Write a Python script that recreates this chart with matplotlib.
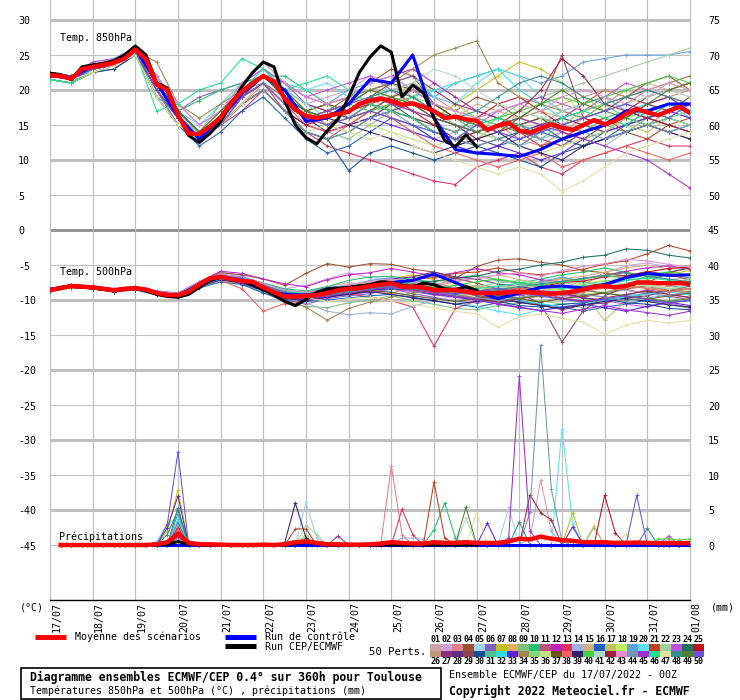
import matplotlib
matplotlib.use('Agg')
import matplotlib.pyplot as plt
from matplotlib.patches import Rectangle
import numpy as np

plt.rcParams['font.family'] = ['DejaVu Sans Mono', 'DejaVu Sans']

W, H = 740, 700

# ---------------- data ----------------
dates = ['17/07', '18/07', '19/07', '20/07', '21/07', '22/07', '23/07', '24/07',
         '25/07', '26/07', '27/07', '28/07', '29/07', '30/07', '31/07', '01/08']
hours6 = list(range(0, 361, 6))
hours12 = list(range(0, 361, 12))
hours_hres = list(range(0, 241, 6))
hours_precip = list(range(6, 361, 6))
hours_hres_precip = list(range(6, 241, 6))

member_colors = ['#d4a0a8', '#d0a0e0', '#e08088', '#a05030', '#a0d0f0', '#8060c0', '#c0c020', '#e0b060',
                 '#80c080', '#20c070', '#c05080', '#c020c0', '#e03060', '#a0b0e0', '#d0b080', '#2060c0',
                 '#c0c060', '#c0f060', '#60a0e0', '#60e0f0', '#c04020', '#a0d0a0', '#c050e0', '#207060',
                 '#c01020',
                 '#c09878', '#903080', '#603080', '#904050', '#105090', '#50c090', '#30e0e0', '#6020e0',
                 '#a08850', '#80d880', '#c0e080', '#705020', '#f06060', '#302070', '#40d040', '#b0d8c8',
                 '#a02040', '#e090d0', '#7098b0', '#a030d0', '#20e090', '#e0e0a0', '#309090', '#508030',
                 '#7050e0']

# Temperature 850 hPa
mean_850 = [22.1, 22.0, 21.6, 23.0, 23.3, 23.6, 23.9, 24.5, 25.8, 24.4,
            20.8, 20.0, 16.4, 13.8, 13.7, 14.8, 16.1, 18.2, 19.8, 21.0,
            22.0, 21.2, 18.8, 17.2, 16.3, 16.0, 16.3, 16.6, 16.9, 18.0,
            18.5, 18.8, 18.4, 17.9, 18.1, 17.6, 17.0, 16.0, 16.2, 15.8,
            15.6, 14.3, 14.9, 15.3, 14.2, 13.9, 14.5, 15.1, 14.6, 14.3,
            15.0, 15.7, 15.1, 15.6, 16.6, 17.3, 16.8, 16.4, 17.0, 17.6,
            16.7]
hres_850 = [22.4, 22.2, 21.5, 23.3, 23.6, 23.8, 24.2, 25.0, 26.3, 25.0,
            21.0, 20.3, 16.5, 13.5, 12.5, 13.8, 15.5, 18.0, 20.5, 22.5,
            24.0, 23.3, 18.5, 15.0, 13.2, 12.3, 14.2, 15.8, 19.0, 22.5,
            24.7, 26.3, 25.4, 19.0, 20.7, 19.6, 16.0, 12.8, 11.9, 13.6,
            11.9]
ctrl_850 = [22.0, 21.8, 23.4, 24.0, 26.0, 21.0, 16.2, 13.0, 16.0, 19.5, 22.0, 20.0, 15.5, 16.0,
            18.0, 21.5, 21.0, 25.0, 16.0, 11.5, 11.0, 10.8, 10.5, 11.5, 13.0, 14.0, 15.0, 17.0,
            17.0, 18.0, 18.0]
members_850 = [
    [22, 21.5, 23, 24, 25.8, 20, 16, 13.5, 16, 20, 22, 19, 17, 16, 18, 20, 19, 17, 16, 15, 14, 16, 15, 14, 13, 15, 16, 17, 18, 17, 16],
    [22.5, 22, 23.5, 24, 26, 21, 17, 14, 17, 21, 23, 20, 18, 19, 20, 22, 21, 19, 17, 16, 15, 14, 13, 15, 16, 17, 18, 20, 19, 21, 22],
    [21.5, 21, 23, 23.5, 25.5, 19, 15, 13, 15, 18, 21, 17, 15, 14, 15, 17, 18, 20, 19, 17, 16, 15, 13, 12, 14, 16, 15, 14, 15, 17, 18],
    [22, 21.5, 22.5, 23.5, 25.5, 20, 16, 14, 16, 19, 21, 18, 16, 17, 19, 21, 23, 22, 18, 17, 19, 18, 16, 15, 17, 18, 20, 19, 21, 22, 20],
    [22.5, 22, 24, 24.5, 26, 22, 17, 13, 15, 19, 22, 19, 17, 15, 16, 18, 17, 16, 15, 14, 12, 13, 14, 15, 17, 16, 15, 17, 18, 17, 19],
    [22, 21.5, 23.5, 24, 26, 21, 17, 19, 20, 21, 23, 21, 18, 17, 16, 18, 20, 21, 19, 18, 16, 15, 14, 13, 12, 14, 15, 16, 18, 19, 17],
    [21.5, 21, 23, 23.5, 25.5, 20, 15, 13, 16, 20, 22, 20, 17, 15, 14, 16, 18, 17, 16, 18, 20, 22, 24, 23, 21, 19, 17, 18, 20, 19, 18],
    [22, 22, 23.5, 24, 26, 21, 17, 14, 16, 19, 21, 18, 16, 17, 18, 19, 17, 16, 14, 13, 13, 15, 16, 17, 16, 15, 14, 16, 17, 18, 17],
    [22, 21.5, 23, 24, 25.5, 20, 16, 14, 18, 21, 22, 19, 16, 14, 13, 15, 17, 19, 21, 19, 17, 16, 18, 19, 17, 16, 15, 14, 16, 18, 17],
    [21.5, 21, 23, 24, 25.5, 19, 17, 18.5, 20, 21, 22, 22, 20, 18, 16, 17, 19, 20, 18, 16, 14, 13, 12, 14, 15, 16, 17, 18, 17, 16, 15],
    [22, 21.5, 23, 24, 26, 21, 16, 13, 15, 18, 21, 17, 14, 13, 15, 17, 16, 15, 13, 12, 13, 14, 15, 13, 12, 14, 15, 16, 15, 14, 13],
    [22.5, 22, 23.5, 24, 26, 22, 17, 14, 16, 20, 22, 21, 19, 18, 19, 21, 22, 23, 21, 19, 17, 16, 15, 14, 16, 18, 19, 17, 16, 15, 14],
    [22, 21.5, 23, 24, 25.5, 20, 15, 13, 15, 17, 20, 17, 14, 12, 11, 10, 9, 8, 7, 6.5, 9, 10, 11, 9, 8, 10, 11, 12, 13, 12, 12],
    [22, 21.5, 22.5, 23.5, 25, 19, 15, 13, 16, 19, 21, 18, 15, 16, 17, 18, 16, 14, 13, 14, 15, 13, 12, 13, 14, 13, 12, 14, 15, 16, 17],
    [22.5, 22, 23.5, 24, 26, 21, 17, 14, 16, 19, 22, 20, 17, 18, 19, 20, 21, 19, 17, 16, 18, 17, 16, 15, 16, 17, 18, 20, 21, 20, 19],
    [21.5, 21, 22.5, 23, 25, 19, 15, 12, 14, 17, 19, 16, 13, 11, 12, 14, 16, 15, 13, 12, 11, 12, 13, 14, 13, 12, 13, 15, 17, 18, 17],
    [22, 22, 23.5, 24, 26, 21, 17, 14, 17, 20, 22, 19, 16, 15, 17, 19, 20, 18, 16, 15, 13, 14, 15, 16, 15, 14, 16, 15, 14, 16, 18],
    [22, 21.5, 23, 24, 25.5, 20, 16, 13, 15, 18, 20, 17, 15, 16, 18, 20, 19, 21, 20, 18, 16, 15, 17, 18, 19, 17, 18, 19, 20, 21, 20],
    [22.5, 22, 23.5, 24.5, 26, 21, 16, 14, 16, 19, 21, 19, 17, 18, 20, 21, 22, 20, 19, 21, 22, 23, 22, 21, 22, 24, 24.5, 25, 25, 25, 25.5],
    [22, 21.5, 23, 24, 26, 21, 17, 15, 18, 21, 23, 21, 20, 21, 19, 18, 21, 22, 19, 18, 21, 23, 22, 19, 17, 18, 19, 17, 18, 16, 15],
    [22, 21.5, 23, 23.5, 25.5, 20, 16, 13, 15, 18, 21, 18, 16, 15, 17, 18, 17, 16, 14, 13, 14, 15, 14, 12, 13, 15, 16, 14, 13, 15, 16],
    [22, 22, 23, 24, 26, 21, 16, 14, 16, 20, 22, 19, 17, 16, 17, 19, 20, 19, 18, 17, 16, 17, 18, 19, 20, 21, 22, 23, 24, 25, 26],
    [22.5, 22, 24, 24.5, 26, 22, 18, 15, 17, 21, 23, 21, 19, 20, 21, 22, 20, 18, 17, 16, 15, 17, 18, 19, 18, 17, 19, 21, 20, 19, 18],
    [21.5, 21, 22.5, 23.5, 25, 19, 15, 13, 15, 18, 20, 17, 14, 13, 14, 16, 18, 16, 14, 13, 12, 13, 14, 15, 13, 12, 14, 16, 15, 14, 15],
    [22, 21.5, 23, 24, 25.5, 20, 16, 13, 16, 19, 21, 18, 16, 15, 16, 18, 19, 17, 15, 14, 16, 18, 19, 17, 15, 16, 15, 17, 19, 20, 21],
    [22, 21.5, 23.5, 24, 26, 21, 16, 13, 16, 20, 22, 20, 17, 15, 16, 17, 18, 19, 17, 15, 14, 15, 16, 17, 18, 19, 20, 19, 18, 19, 20],
    [22.5, 22, 23.5, 24, 26, 21, 17, 14, 17, 20, 22, 20, 18, 17, 18, 20, 21, 22, 20, 18, 17, 16, 15, 16, 15, 14, 15, 16, 18, 19, 17],
    [22, 21.5, 23, 23.5, 25.5, 20, 16, 13, 15, 19, 21, 18, 16, 14, 15, 16, 17, 18, 16, 15, 13, 12, 14, 15, 16, 15, 14, 15, 16, 17, 18],
    [22, 22, 23, 24, 26, 21, 17, 14, 16, 19, 21, 18, 16, 17, 16, 17, 19, 20, 18, 16, 15, 14, 16, 18, 25, 16, 17, 19, 18, 17, 19],
    [21.5, 21, 22.5, 23, 25, 19, 15, 13, 15, 18, 20, 17, 14, 13, 8.5, 11, 12, 11, 10, 11, 12, 11, 10, 9, 11, 12, 13, 14, 15, 16, 15],
    [22, 21.5, 23, 24, 25.5, 20, 16, 14, 16, 19, 21, 18, 16, 15, 16, 18, 17, 16, 15, 14, 16, 15, 14, 13, 15, 14, 16, 17, 16, 18, 17],
    [22.5, 22, 23.5, 24.5, 26, 22, 17, 14, 16, 20, 23, 20, 18, 16, 17, 19, 20, 19, 20, 21, 22, 23, 20, 18, 16, 17, 18, 16, 17, 18, 16],
    [22, 21.5, 23, 24, 26, 21, 16, 13, 15, 18, 20, 17, 15, 14, 15, 16, 15, 14, 13, 12, 11, 12, 11, 10, 11, 13, 14, 15, 16, 17, 16],
    [22, 21.5, 23, 24, 25.5, 24, 18, 16, 18, 20, 21, 19, 17, 18, 19, 20, 21, 23, 25, 26, 27, 21, 19, 18, 17, 16, 18, 19, 20, 21, 22],
    [22, 22, 23.5, 24, 26, 21, 16, 14, 17, 20, 22, 19, 16, 17, 18, 20, 19, 18, 17, 15, 14, 16, 17, 16, 15, 17, 18, 16, 15, 16, 17],
    [21.5, 21, 22.5, 23.5, 25, 19, 15, 13, 15, 18, 20, 17, 14, 15, 16, 15, 14, 13, 12, 13, 14, 13, 12, 11, 12, 13, 14, 16, 17, 16, 15],
    [22, 21.5, 23, 24, 26, 21, 16, 14, 16, 19, 22, 19, 17, 18, 17, 19, 21, 20, 18, 16, 15, 14, 15, 16, 14, 13, 15, 17, 16, 15, 14],
    [22, 21.5, 23, 24, 25.5, 20, 16, 13, 15, 19, 21, 18, 15, 14, 15, 17, 16, 14, 12, 11, 10, 9, 10, 11, 9, 10, 11, 12, 11, 10, 11],
    [22.5, 22, 23.5, 24, 26, 21, 17, 14, 16, 20, 22, 19, 17, 16, 15, 14, 13, 12, 11, 12, 13, 14, 12, 11, 10, 12, 13, 14, 15, 14, 13],
    [22, 21.5, 23, 24, 25.5, 20, 16, 13, 16, 19, 21, 18, 16, 17, 18, 17, 18, 19, 17, 16, 15, 16, 17, 18, 19, 18, 19, 20, 21, 22, 21],
    [22, 22, 23.5, 24, 26, 21, 16, 14, 17, 20, 22, 20, 18, 16, 17, 18, 20, 21, 23, 22, 20, 18, 17, 16, 17, 18, 17, 18, 19, 20, 19],
    [22, 21.5, 23, 24, 25.5, 20, 16, 13, 15, 18, 20, 17, 15, 16, 17, 18, 17, 16, 15, 13, 14, 15, 17, 20, 24.5, 22, 18, 17, 16, 15, 14],
    [22.5, 22, 23.5, 24.5, 26, 22, 18, 15, 17, 21, 24, 21, 19, 18, 19, 21, 22, 20, 18, 17, 16, 17, 18, 17, 19, 20, 19, 18, 20, 21, 20],
    [22, 21.5, 23, 24, 25.5, 20, 15, 13, 15, 18, 20, 17, 14, 13, 14, 16, 17, 15, 14, 13, 12, 13, 12, 14, 15, 14, 13, 14, 15, 14, 15],
    [22, 21.5, 23, 23.5, 25.5, 20, 16, 13, 16, 19, 21, 18, 16, 17, 18, 19, 18, 17, 16, 15, 14, 15, 16, 15, 14, 13, 12, 11, 10, 8, 6],
    [21.5, 21, 23, 24, 25.5, 17, 18, 20, 21, 24.5, 23, 20, 21, 22, 20, 18, 17, 16, 14, 13, 15, 16, 15, 14, 16, 17, 16, 15, 17, 18, 17],
    [22, 21.5, 22.5, 23.5, 25, 19, 15, 13, 15, 18, 21, 18, 16, 15, 14, 13, 14, 12, 11, 10, 9, 8, 9, 8, 5.5, 7, 9, 11, 12, 13, 14],
    [22, 22, 23.5, 24, 26, 21, 17, 14, 16, 20, 22, 19, 17, 16, 17, 19, 20, 19, 17, 16, 17, 19, 21, 22, 21, 19, 18, 19, 20, 19, 18],
    [22.5, 22, 23.5, 24, 26, 21, 17, 14, 17, 20, 22, 20, 17, 16, 18, 20, 19, 18, 16, 15, 14, 15, 16, 18, 20, 18, 17, 16, 18, 20, 21],
    [22, 21.5, 23, 24, 25.5, 20, 16, 13, 15, 19, 21, 18, 16, 15, 16, 17, 16, 15, 14, 13, 15, 14, 13, 14, 15, 16, 17, 18, 17, 16, 18],
]

# Temperature 500 hPa
mean_500 = [-8.6, -8.3, -8.0, -8.1, -8.2, -8.4, -8.6, -8.4, -8.3, -8.5,
            -9.0, -9.3, -9.3, -8.8, -7.8, -6.9, -6.7, -7.0, -7.3, -7.4,
            -8.2, -8.9, -9.5, -9.5, -9.4, -9.3, -9.0, -8.6, -8.4, -8.3,
            -8.0, -7.8, -7.6, -8.1, -8.1, -8.2, -8.6, -8.6, -8.6, -8.8,
            -9.0, -9.0, -9.0, -8.9, -8.8, -8.9, -9.0, -9.1, -9.0, -8.8,
            -8.5, -8.1, -8.0, -8.2, -8.0, -7.5, -7.5, -7.6, -7.6, -7.6,
            -7.7]
hres_500 = [-8.5, -8.2, -8.0, -8.1, -8.3, -8.5, -8.6, -8.4, -8.3, -8.6,
            -9.2, -9.5, -9.6, -9.2, -8.2, -7.2, -6.7, -7.0, -7.3, -7.8,
            -8.5, -9.3, -10.2, -10.8, -9.9, -8.9, -8.4, -8.3, -8.2, -8.0,
            -7.8, -7.4, -7.5, -7.9, -8.1, -7.6, -7.8, -8.4, -8.5, -8.1,
            -8.6]
ctrl_500 = [-8.5, -8.0, -8.2, -8.6, -8.3, -9.0, -9.4, -7.8, -6.7, -7.2, -8.5, -9.2, -9.3, -8.8,
            -8.3, -8.1, -7.5, -7.2, -6.3, -7.5, -8.8, -9.8, -9.0, -8.2, -8.0, -8.3, -7.8, -6.8,
            -6.2, -6.5, -6.4]
members_500 = [
    [-8.6, -8.0, -8.3, -8.7, -8.2, -9.1, -9.2, -7.9, -6.5, -7.1, -8.0, -9.3, -8.8, -8.1, -7.5, -7.9, -7.2, -8.3, -9.0, -8.4, -7.9, -8.6, -7.4, -8.8, -9.6, -8.7, -7.9, -7.2, -6.3, -7.1, -6.8],
    [-8.4, -7.8, -8.0, -8.5, -8.1, -8.8, -9.1, -7.4, -6.0, -6.6, -7.6, -8.4, -7.9, -7.0, -6.1, -6.8, -7.0, -7.6, -7.9, -7.0, -6.6, -7.3, -7.6, -8.2, -8.4, -7.1, -6.2, -5.1, -4.7, -5.3, -5.6],
    [-8.7, -8.1, -8.3, -8.8, -8.4, -9.3, -9.6, -8.1, -7.1, -7.6, -8.6, -9.7, -10.1, -9.0, -8.2, -8.8, -9.1, -8.0, -7.6, -8.2, -9.2, -10.1, -8.9, -8.4, -7.9, -9.1, -9.6, -10.2, -8.8, -8.0, -8.6],
    [-8.5, -8.0, -8.2, -8.6, -8.3, -9.0, -9.4, -7.5, -6.1, -6.4, -7.0, -7.9, -6.2, -4.8, -5.3, -4.8, -4.9, -5.6, -6.0, -6.9, -5.2, -4.3, -4.1, -4.6, -5.0, -5.8, -6.1, -6.6, -5.9, -6.4, -7.1],
    [-8.4, -7.9, -8.1, -8.5, -8.2, -8.8, -9.2, -7.8, -6.8, -7.3, -8.3, -9.2, -9.6, -9.1, -8.6, -8.0, -7.4, -7.1, -7.7, -8.6, -9.1, -8.4, -8.0, -7.3, -8.1, -8.6, -7.4, -7.0, -6.6, -7.1, -7.4],
    [-8.7, -8.2, -8.4, -8.8, -8.4, -9.1, -9.5, -8.0, -7.0, -7.4, -8.7, -10.0, -10.6, -9.8, -9.4, -9.1, -8.4, -9.1, -9.6, -10.2, -10.4, -9.9, -9.3, -9.0, -9.7, -10.1, -10.6, -9.4, -8.5, -9.2, -9.7],
    [-8.5, -7.9, -8.1, -8.5, -8.2, -8.9, -9.2, -7.7, -6.4, -6.9, -7.8, -8.8, -9.0, -8.3, -8.1, -7.4, -7.0, -6.4, -7.1, -7.6, -8.1, -8.6, -7.8, -7.5, -6.9, -7.7, -6.4, -5.9, -7.0, -6.3, -5.8],
    [-8.6, -8.0, -8.2, -8.6, -8.3, -9.0, -9.3, -7.9, -6.7, -7.2, -8.2, -9.3, -9.4, -9.0, -8.4, -8.6, -8.1, -8.5, -9.1, -8.3, -8.0, -8.7, -9.1, -9.6, -8.9, -8.4, -8.0, -8.6, -9.1, -8.5, -8.0],
    [-8.8, -8.3, -8.4, -8.9, -8.6, -9.3, -9.7, -8.2, -7.2, -7.7, -8.9, -10.2, -10.9, -11.1, -10.4, -10.0, -9.4, -10.1, -10.6, -11.2, -11.4, -10.8, -10.4, -10.1, -10.6, -11.1, -10.0, -9.6, -10.2, -10.6, -11.2],
    [-8.5, -7.8, -8.0, -8.4, -8.1, -8.8, -9.1, -7.6, -6.3, -6.8, -7.6, -8.4, -8.7, -8.1, -7.2, -6.7, -6.6, -7.1, -7.4, -6.9, -6.4, -7.1, -7.6, -7.0, -6.4, -6.0, -5.4, -6.1, -6.6, -6.0, -5.4],
    [-8.6, -8.1, -8.2, -8.6, -8.3, -9.0, -9.3, -7.8, -6.8, -7.4, -8.4, -9.4, -9.7, -9.2, -8.7, -8.3, -8.1, -8.4, -8.9, -9.4, -9.8, -9.4, -9.0, -8.4, -9.0, -9.6, -8.9, -8.4, -8.1, -8.6, -9.1],
    [-8.4, -7.8, -8.0, -8.4, -8.1, -8.7, -9.0, -7.4, -5.9, -6.2, -7.0, -7.7, -8.1, -7.1, -6.4, -6.1, -5.5, -6.0, -6.6, -6.1, -5.5, -6.1, -6.4, -7.1, -7.4, -6.9, -6.5, -5.9, -5.4, -5.1, -5.6],
    [-8.7, -8.1, -8.3, -8.7, -8.4, -9.1, -9.4, -8.0, -7.0, -7.5, -8.5, -9.6, -10.0, -9.4, -9.1, -9.6, -10.1, -11.0, -16.6, -11.2, -10.1, -9.4, -9.1, -8.6, -9.1, -9.6, -8.9, -8.5, -9.1, -9.4, -10.0],
    [-8.6, -8.0, -8.2, -8.6, -8.3, -9.0, -9.3, -7.8, -6.8, -7.2, -8.2, -9.6, -10.4, -11.6, -12.1, -11.8, -12.0, -10.9, -10.1, -9.4, -10.1, -9.6, -9.1, -9.5, -10.0, -9.4, -9.0, -8.6, -9.1, -9.4, -9.0],
    [-8.5, -7.9, -8.1, -8.5, -8.2, -8.8, -9.1, -7.6, -6.5, -6.9, -7.9, -8.7, -9.1, -8.4, -8.0, -7.7, -7.5, -7.9, -8.1, -7.4, -7.0, -6.4, -7.1, -7.6, -7.0, -6.6, -6.0, -5.4, -5.0, -5.6, -5.0],
    [-8.7, -8.2, -8.4, -8.8, -8.5, -9.3, -9.6, -8.3, -7.4, -7.8, -9.0, -10.1, -10.2, -10.0, -9.7, -9.4, -9.2, -9.6, -10.1, -10.6, -11.0, -10.4, -10.1, -10.6, -11.0, -11.6, -11.0, -10.6, -10.0, -10.4, -10.1],
    [-8.5, -7.9, -8.1, -8.5, -8.2, -8.9, -9.2, -7.7, -6.6, -7.0, -8.0, -9.0, -9.3, -8.7, -8.4, -8.1, -7.6, -8.0, -8.5, -8.9, -9.3, -9.0, -8.4, -8.0, -8.6, -9.1, -12.9, -10.1, -9.0, -8.4, -9.0],
    [-8.6, -8.0, -8.2, -8.6, -8.3, -9.0, -9.3, -7.8, -6.7, -7.1, -8.1, -9.1, -9.2, -8.9, -8.6, -8.0, -7.7, -8.2, -8.4, -8.9, -9.4, -9.7, -9.1, -8.6, -8.3, -7.6, -7.2, -7.8, -8.2, -7.6, -7.3],
    [-8.5, -7.9, -8.1, -8.5, -8.2, -8.8, -9.1, -7.5, -6.3, -6.7, -7.6, -8.6, -8.9, -8.2, -7.9, -7.2, -6.8, -7.4, -7.8, -8.4, -8.8, -8.2, -7.8, -7.4, -6.7, -7.4, -7.9, -7.2, -6.9, -6.2, -6.9],
    [-8.6, -8.1, -8.3, -8.7, -8.4, -9.1, -9.4, -7.9, -6.9, -7.3, -8.3, -9.3, -9.6, -9.0, -8.8, -8.3, -8.9, -9.4, -9.8, -10.2, -10.9, -11.6, -12.1, -11.4, -11.1, -10.4, -10.1, -9.4, -9.0, -9.6, -10.1],
    [-8.5, -7.9, -8.1, -8.5, -8.2, -8.9, -9.2, -7.6, -6.5, -6.9, -7.9, -8.9, -9.1, -8.6, -8.4, -7.8, -7.6, -7.0, -6.8, -6.2, -6.0, -5.4, -6.1, -6.4, -6.0, -5.6, -4.9, -4.4, -3.4, -2.2, -3.0],
    [-8.6, -8.0, -8.2, -8.6, -8.3, -9.0, -9.3, -7.8, -6.7, -7.1, -8.1, -9.1, -9.4, -9.1, -8.5, -8.3, -7.7, -8.3, -8.6, -9.1, -9.3, -9.0, -8.5, -8.3, -7.7, -7.5, -7.9, -8.1, -7.7, -7.5, -7.0],
    [-8.7, -8.1, -8.3, -8.7, -8.4, -9.2, -9.5, -8.0, -7.0, -7.5, -8.5, -9.6, -10.0, -9.7, -9.1, -8.9, -8.4, -8.8, -9.3, -9.6, -10.1, -9.5, -9.3, -8.7, -9.3, -9.7, -10.1, -10.6, -11.0, -10.4, -11.1],
    [-8.6, -8.0, -8.2, -8.6, -8.3, -9.0, -9.3, -7.8, -6.8, -7.3, -8.3, -9.3, -9.6, -9.1, -8.8, -8.4, -8.1, -7.5, -7.3, -6.9, -6.6, -5.9, -5.6, -5.0, -4.6, -3.9, -3.6, -2.7, -2.9, -3.6, -4.0],
    [-8.5, -7.9, -8.1, -8.5, -8.2, -8.9, -9.2, -7.7, -6.6, -7.0, -8.0, -9.0, -9.2, -8.9, -8.3, -8.1, -7.5, -8.0, -8.5, -8.7, -9.2, -8.9, -8.3, -8.1, -7.5, -7.3, -6.7, -6.5, -6.0, -5.5, -5.3],
    [-8.7, -8.2, -8.3, -8.8, -8.5, -9.2, -9.5, -8.1, -7.1, -7.5, -8.5, -9.5, -9.9, -9.3, -9.0, -8.7, -8.1, -8.7, -9.0, -9.5, -9.7, -10.3, -9.7, -9.5, -8.9, -8.7, -8.1, -7.9, -8.3, -8.5, -9.1],
    [-8.6, -8.0, -8.2, -8.6, -8.3, -9.0, -9.3, -7.8, -6.7, -7.1, -8.1, -9.1, -9.3, -8.7, -8.4, -7.7, -7.4, -7.7, -8.4, -8.7, -9.4, -9.7, -10.4, -10.7, -11.4, -10.7, -10.4, -9.7, -9.4, -8.7, -8.4],
    [-8.5, -7.9, -8.1, -8.5, -8.2, -8.9, -9.2, -7.7, -6.6, -7.0, -8.0, -9.0, -9.0, -8.7, -8.0, -7.7, -7.0, -6.7, -6.0, -6.7, -7.0, -7.7, -8.0, -8.7, -9.0, -9.7, -10.0, -9.7, -9.0, -8.7, -8.0],
    [-8.6, -8.1, -8.3, -8.7, -8.4, -9.1, -9.4, -7.9, -6.9, -7.3, -8.3, -9.3, -9.4, -9.1, -8.4, -8.1, -7.4, -7.1, -6.4, -6.9, -7.6, -8.4, -9.1, -10.5, -16.0, -11.5, -9.4, -8.1, -7.5, -6.1, -5.4],
    [-8.7, -8.2, -8.4, -8.8, -8.5, -9.2, -9.5, -8.1, -7.0, -7.5, -8.6, -9.6, -9.9, -9.4, -9.2, -8.6, -8.4, -8.6, -9.2, -9.4, -10.0, -10.2, -10.8, -11.0, -10.6, -10.4, -9.8, -10.4, -10.6, -11.2, -11.4],
    [-8.5, -7.9, -8.1, -8.5, -8.2, -8.9, -9.2, -7.7, -6.6, -7.0, -8.0, -8.9, -9.3, -8.8, -8.2, -8.0, -7.6, -8.1, -8.4, -8.9, -9.0, -8.6, -8.2, -8.9, -9.3, -8.6, -8.2, -7.6, -7.2, -7.9, -8.4],
    [-8.6, -8.0, -8.2, -8.6, -8.3, -9.0, -9.3, -7.8, -6.7, -7.1, -8.2, -9.3, -9.7, -9.3, -8.8, -8.2, -7.8, -7.4, -7.9, -8.5, -9.0, -9.6, -10.2, -10.5, -11.0, -10.7, -10.1, -9.6, -9.1, -8.8, -9.3],
    [-8.7, -8.1, -8.3, -8.7, -8.4, -9.2, -9.5, -8.0, -7.0, -7.5, -8.5, -9.6, -9.9, -9.5, -9.1, -8.6, -8.2, -8.6, -9.1, -9.6, -10.0, -10.6, -11.1, -11.5, -11.0, -10.6, -11.1, -11.6, -10.9, -10.3, -10.8],
    [-8.6, -8.0, -8.2, -8.6, -8.3, -9.0, -9.3, -7.8, -6.8, -7.2, -8.6, -10.1, -11.0, -12.9, -11.2, -10.3, -9.6, -9.0, -8.6, -9.2, -9.7, -9.3, -8.8, -8.4, -8.9, -9.4, -8.9, -8.3, -8.0, -8.5, -8.8],
    [-8.5, -7.9, -8.1, -8.5, -8.2, -8.8, -9.1, -7.6, -6.5, -6.9, -7.9, -8.8, -9.0, -8.6, -8.1, -7.7, -7.3, -7.7, -8.2, -8.5, -8.1, -7.6, -7.2, -7.7, -8.2, -7.8, -7.3, -6.9, -7.3, -7.6, -7.1],
    [-8.6, -8.0, -8.2, -8.6, -8.3, -9.0, -9.3, -7.9, -6.8, -7.3, -8.3, -9.2, -9.5, -9.2, -8.9, -8.4, -8.0, -8.4, -8.7, -9.1, -8.7, -8.2, -7.9, -8.3, -8.7, -9.2, -8.8, -8.2, -7.8, -8.3, -8.6],
    [-8.7, -8.1, -8.3, -8.7, -8.4, -9.1, -9.4, -8.0, -7.0, -7.4, -8.4, -9.4, -9.8, -9.3, -9.0, -8.6, -8.9, -9.4, -9.8, -10.2, -9.8, -9.3, -9.8, -10.3, -9.8, -9.4, -9.0, -9.5, -9.9, -9.4, -9.0],
    [-8.6, -8.0, -8.2, -8.6, -8.3, -9.0, -9.4, -8.0, -7.2, -8.4, -11.6, -10.5, -10.0, -9.2, -8.7, -8.4, -8.1, -8.6, -9.0, -9.5, -9.1, -8.7, -8.3, -8.7, -9.2, -8.8, -8.3, -7.9, -8.4, -8.8, -8.3],
    [-8.7, -8.2, -8.4, -8.8, -8.5, -9.2, -9.5, -8.1, -7.1, -7.6, -8.7, -9.8, -10.1, -9.6, -9.2, -8.8, -9.2, -9.7, -10.1, -10.6, -10.2, -9.7, -10.3, -10.8, -11.2, -10.7, -10.2, -9.8, -10.2, -10.7, -11.0],
    [-8.5, -7.9, -8.1, -8.5, -8.2, -8.9, -9.2, -7.7, -6.6, -7.0, -8.0, -9.0, -9.1, -8.6, -8.2, -7.8, -7.4, -7.9, -8.3, -7.9, -7.4, -7.0, -7.5, -7.9, -7.4, -7.0, -6.5, -6.9, -6.4, -6.0, -6.4],
    [-8.6, -8.0, -8.2, -8.6, -8.3, -9.0, -9.3, -7.8, -6.7, -7.2, -8.2, -9.1, -9.4, -9.0, -8.6, -8.2, -7.8, -8.3, -8.7, -9.2, -8.8, -8.3, -7.9, -8.4, -8.9, -8.5, -8.0, -7.6, -8.0, -8.4, -7.9],
    [-8.7, -8.1, -8.3, -8.7, -8.4, -9.1, -9.4, -7.9, -6.9, -7.4, -8.4, -9.4, -9.6, -9.2, -8.7, -8.3, -7.9, -8.4, -8.9, -9.3, -9.8, -10.3, -9.8, -9.3, -9.8, -10.2, -9.7, -9.2, -8.7, -9.2, -9.6],
    [-8.5, -7.9, -8.1, -8.5, -8.2, -8.8, -9.1, -7.5, -6.3, -6.8, -7.7, -8.6, -8.9, -8.4, -7.8, -7.4, -7.0, -7.4, -7.8, -7.3, -6.9, -6.4, -6.1, -6.6, -5.8, -5.2, -4.8, -4.2, -4.4, -4.9, -5.3],
    [-8.6, -8.0, -8.2, -8.6, -8.3, -9.0, -9.3, -7.8, -6.8, -7.2, -8.2, -9.2, -9.5, -9.2, -8.8, -8.4, -8.1, -8.5, -8.9, -9.3, -9.7, -10.1, -9.6, -9.2, -8.8, -9.2, -9.6, -10.1, -9.7, -9.3, -8.9],
    [-8.7, -8.1, -8.3, -8.7, -8.4, -9.2, -9.5, -8.0, -7.0, -7.5, -8.5, -9.5, -9.8, -9.4, -9.0, -8.5, -8.1, -8.5, -9.0, -9.5, -10.0, -10.5, -11.0, -11.5, -11.9, -11.3, -10.8, -11.4, -11.8, -12.2, -11.6],
    [-8.5, -7.9, -8.1, -8.5, -8.2, -8.9, -9.2, -7.6, -6.5, -6.9, -7.9, -8.8, -9.1, -8.7, -8.2, -7.8, -7.5, -7.9, -8.3, -8.8, -8.4, -8.0, -7.6, -8.0, -8.4, -8.0, -7.6, -7.2, -6.8, -7.2, -7.6],
    [-8.6, -8.0, -8.2, -8.6, -8.3, -9.0, -9.3, -7.8, -6.7, -7.2, -8.2, -9.2, -9.7, -10.2, -9.8, -9.6, -10.1, -10.6, -11.1, -11.6, -12.0, -13.9, -12.4, -12.0, -12.6, -13.2, -14.9, -13.6, -12.9, -13.3, -12.9],
    [-8.7, -8.1, -8.3, -8.7, -8.4, -9.1, -9.4, -8.0, -7.0, -7.4, -8.4, -9.3, -9.7, -9.3, -8.8, -8.4, -8.0, -8.4, -8.8, -9.2, -8.8, -8.5, -8.1, -7.7, -7.3, -6.9, -6.5, -6.1, -6.6, -7.0, -7.4],
    [-8.6, -8.0, -8.2, -8.6, -8.3, -9.0, -9.3, -7.8, -6.8, -7.3, -8.3, -9.2, -9.4, -8.9, -8.4, -7.9, -7.5, -7.8, -8.2, -8.6, -9.0, -9.4, -9.8, -9.4, -9.0, -8.6, -9.0, -9.4, -9.8, -10.2, -9.8],
    [-8.5, -7.9, -8.1, -8.5, -8.2, -8.9, -9.2, -7.6, -6.5, -6.9, -7.9, -8.9, -9.3, -9.0, -8.6, -8.2, -7.9, -8.3, -8.7, -9.1, -8.7, -8.3, -8.9, -9.4, -9.9, -10.3, -9.8, -9.4, -9.9, -10.4, -10.0],
]

# Precipitation (mm per 6 h step, from 6 h to 360 h)
mean_precip = [0, 0, 0, 0, 0, 0, 0, 0, 0,
               0.1, 0.4, 1.6, 0.3, 0.1, 0.1, 0.05, 0, 0, 0,
               0.05, 0, 0.1, 0.4, 0.5, 0.3, 0.1, 0.1, 0.05, 0.05,
               0.1, 0.2, 0.4, 0.3, 0.2, 0.2, 0.4, 0.3, 0.3, 0.4,
               0.3, 0.3, 0.3, 0.5, 0.9, 0.8, 1.2, 0.9, 0.7, 0.6,
               0.4, 0.4, 0.4, 0.3, 0.3, 0.35, 0.3, 0.25, 0.3, 0.25,
               0.3]
hres_precip = [0, 0, 0, 0, 0, 0, 0, 0, 0,
               0, 0.1, 0.5, 0.1,
               0, 0, 0, 0, 0, 0, 0, 0, 0,
               0.2, 0.4, 0.2,
               0, 0, 0, 0, 0, 0, 0, 0, 0, 0, 0, 0, 0, 0, 0]
ctrl_precip = [0.0] * 60
# (member number, hour, mm)
precip_events = [
    (50, 66, 3.0), (50, 72, 13.3), (7, 66, 2.0), (7, 72, 7.9), (28, 66, 2.5), (28, 72, 7.0),
    (24, 72, 5.3), (48, 66, 1.5), (48, 72, 5.0), (20, 60, 0.5), (20, 66, 3.0), (20, 72, 4.0),
    (32, 72, 3.7), (16, 72, 3.3), (12, 72, 2.5), (3, 72, 2.8), (38, 72, 2.2), (10, 72, 2.0),
    (19, 72, 3.5), (19, 78, 0.6), (19, 84, 0.3), (44, 72, 4.5), (21, 72, 2.4), (1, 72, 1.5),
    (33, 72, 1.8), (45, 72, 1.2), (6, 72, 2.2), (9, 72, 1.6), (13, 72, 1.0), (40, 72, 1.4),
    (22, 72, 1.1),
    (39, 132, 0.3), (39, 138, 6.0), (39, 144, 1.0), (5, 144, 6.1), (5, 150, 1.0),
    (21, 138, 2.3), (21, 144, 2.3), (22, 144, 2.8), (22, 150, 1.5), (17, 144, 1.5),
    (35, 144, 1.2), (15, 144, 0.8), (27, 162, 1.3),
    (3, 192, 11.3), (3, 198, 1.5), (13, 198, 5.1), (13, 204, 1.5), (14, 198, 1.0), (14, 204, 1.0),
    (14, 210, 0.8), (21, 216, 9.0), (21, 222, 1.0), (10, 216, 2.2), (10, 222, 6.0), (10, 228, 1.0),
    (49, 234, 5.4), (41, 234, 3.8), (47, 240, 4.6), (33, 246, 3.1),
    (5, 258, 5.4), (48, 264, 3.3), (45, 258, 1.0), (45, 264, 24.1), (45, 270, 2.0),
    (42, 270, 7.2), (42, 276, 4.6), (42, 282, 3.6), (1, 270, 1.0), (1, 276, 9.3), (1, 282, 2.0),
    (44, 270, 4.7), (44, 276, 28.6), (44, 282, 8.0), (44, 288, 0.5), (20, 288, 16.6), (20, 294, 3.0),
    (7, 294, 4.6), (33, 294, 2.6), (9, 306, 2.5), (17, 306, 2.7), (25, 312, 7.1), (25, 318, 1.7),
    (47, 324, 1.6), (50, 330, 7.1), (48, 336, 2.4), (23, 348, 1.3),
    (40, 342, 0.8), (40, 348, 0.9), (40, 354, 0.7), (40, 360, 0.9),
]

PRECIP_BASE = -45.0  # precipitation drawn on the lower scale (0 mm at -45)

member_precip = np.zeros((50, len(hours_precip)))
for m, h, v in precip_events:
    member_precip[m - 1, hours_precip.index(h)] = v

# ---------------- figure ----------------
fig = plt.figure(figsize=(W / 100, H / 100), dpi=100)
fig.patch.set_facecolor('white')
ax = fig.add_axes([50 / W, 100 / H, 640 / W, 600 / H])
ax.set_xlim(0, 360)
ax.set_ylim((230 - 600) / 7, 230 / 7)
ax.set_xticks([])
ax.set_yticks([])
for s in ['left', 'right', 'top']:
    ax.spines[s].set_visible(False)
ax.spines['bottom'].set_color('black')
ax.spines['bottom'].set_linewidth(1.0)

GRID = '#c0c0c0'
for v in range(30, -50, -5):
    if v == 0:
        ax.axhline(0, color='#8c8c8c', lw=2.0, zorder=1)
    elif v % 10 == 0:
        ax.axhline(v, color=GRID, lw=2.2, zorder=1)
    else:
        ax.axhline(v, color=GRID, lw=0.8, zorder=1)
for d in range(len(dates)):
    ax.axvline(24 * d, color=GRID, lw=0.9, zorder=1, clip_on=False)

mk = dict(lw=0.75, marker='+', ms=3.2, mew=0.6, zorder=2)
for i in range(50):
    c = member_colors[i]
    r850 = members_850[i]
    r500 = members_500[i]
    ax.plot(hours12[:len(r850)], r850, color=c, **mk)
    ax.plot(hours12[:len(r500)], r500, color=c, **mk)
    ax.plot(hours_precip, PRECIP_BASE + member_precip[i], color=c, **mk)

# control run
ax.plot(hours12, ctrl_850, color='#0000ff', lw=2.2, zorder=3)
ax.plot(hours12, ctrl_500, color='#0000ff', lw=2.2, zorder=3)
ax.plot(hours_precip, PRECIP_BASE + np.array(ctrl_precip), color='#0000ff', lw=2.2, zorder=3)
# operational run
ax.plot(hours_hres, hres_850, color='black', lw=2.2, zorder=4)
ax.plot(hours_hres, hres_500, color='black', lw=2.2, zorder=4)
ax.plot(hours_hres_precip, PRECIP_BASE + np.array(hres_precip), color='black', lw=2.2, zorder=4)
# ensemble mean
ax.plot(hours6, mean_850, color='#ff0000', lw=3.2, zorder=5)
ax.plot(hours6, mean_500, color='#ff0000', lw=3.2, zorder=5)
ax.plot(hours_precip, PRECIP_BASE + np.array(mean_precip), color='#ff0000', lw=3.2, zorder=5)

# ---------------- annotations (pixel overlay) ----------------
ov = fig.add_axes([0, 0, 1, 1], zorder=10)
ov.set_xlim(0, W)
ov.set_ylim(H, 0)
ov.axis('off')

FS = 7.2


def ypix(v):
    return 230 - 7 * v


for v in range(30, -50, -5):
    ov.text(18, ypix(v) + 1.5, str(v), ha='left', va='center', fontsize=FS)
for r in range(75, -5, -5):
    ov.text(708, ypix(r - 45) + 1.5, str(r), ha='left', va='center', fontsize=FS)

for d, lab in enumerate(dates):
    ov.text(50 + d * 640 / 15 + 1.5, 602, lab, rotation=90, ha='left', va='top', fontsize=FS)
ov.text(20, 607, '(°C)', ha='left', va='center', fontsize=FS)
ov.text(711, 607, '(mm)', ha='left', va='center', fontsize=FS)

ov.text(60, 38, 'Temp. 850hPa', ha='left', va='center', fontsize=FS)
ov.text(60, 272, 'Temp. 500hPa', ha='left', va='center', fontsize=FS)
ov.text(59, 537, 'Précipitations', ha='left', va='center', fontsize=FS)

# legend
ov.plot([35, 66], [636.5, 636.5], color='#ff0000', lw=3.6, solid_capstyle='butt')
ov.text(75, 637, 'Moyenne des scénarios', ha='left', va='center', fontsize=FS)
ov.plot([225, 256], [636.5, 636.5], color='#0000ff', lw=3.6, solid_capstyle='butt')
ov.text(265, 637, 'Run de contrôle', ha='left', va='center', fontsize=FS)
ov.plot([225, 256], [645.5, 645.5], color='black', lw=3.6, solid_capstyle='butt')
ov.text(265, 647, 'Run CEP/ECMWF', ha='left', va='center', fontsize=FS)

ov.text(369, 652, '50 Perts.', ha='left', va='center', fontsize=7.7)
sw = 274 / 25
for k in range(25):
    x0 = 430 + k * sw
    ov.add_patch(Rectangle((x0, 644), sw, 6.5, facecolor=member_colors[k], edgecolor='none'))
    ov.add_patch(Rectangle((x0, 650.5), sw, 6.5, facecolor=member_colors[k + 25], edgecolor='none'))
    ov.text(x0 + sw / 2, 640, f'{k + 1:02d}', ha='center', va='center', fontsize=6.0, fontweight='bold')
    ov.text(x0 + sw / 2, 661.5, f'{k + 26:02d}', ha='center', va='center', fontsize=6.0, fontweight='bold')

# bottom boxes
ov.add_patch(Rectangle((21, 667.5), 420, 31, fill=False, edgecolor='black', lw=1.2))
ov.text(30, 677.5, 'Diagramme ensembles ECMWF/CEP 0.4° sur 360h pour Toulouse',
        ha='left', va='center', fontsize=8.3, fontweight='bold')
ov.text(30, 691, 'Températures 850hPa et 500hPa (°C) , précipitations (mm)',
        ha='left', va='center', fontsize=FS)
ov.text(449, 675, 'Ensemble ECMWF/CEP du 17/07/2022 - 00Z', ha='left', va='center', fontsize=FS)
ov.text(449, 691, 'Copyright 2022 Meteociel.fr - ECMWF', ha='left', va='center',
        fontsize=8.3, fontweight='bold')

fig.savefig('out.png', dpi=100)
